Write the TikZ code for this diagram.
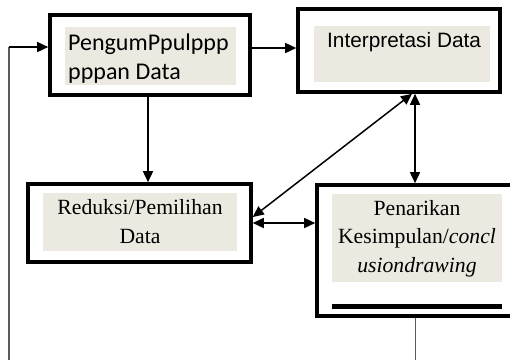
\documentclass[tikz,border=0pt]{standalone}
\usepackage{fontspec}
\setmainfont{Liberation Serif}
\newfontfamily\calibfont{Carlito}
\newfontfamily\arialfont{Liberation Sans}
\usetikzlibrary{arrows.meta}
\definecolor{beige}{RGB}{236,234,224}
\definecolor{framegray}{RGB}{90,90,90}
\begin{document}
\begin{tikzpicture}[x=1pt,y=-1pt,
  box/.style={draw=black,line width=3.6pt,rectangle,inner sep=0pt,outer sep=1.8pt},
  arr/.style={line width=1.5pt,-{Triangle[length=11pt,width=10pt]}},
  darr/.style={line width=1.5pt,{Triangle[length=11pt,width=10pt]}-{Triangle[length=11pt,width=10pt]}},
  sanstxt/.style={font=\calibfont\fontsize{24}{29}\selectfont,inner sep=0pt},
  ariatxt/.style={font=\arialfont\fontsize{20.8}{25}\selectfont,inner sep=0pt},
  sertxt/.style={font=\fontsize{21.7}{29}\selectfont,inner sep=0pt}]
\clip (0,0) rectangle (510,360);
\fill[white] (0,0) rectangle (510,360);
% boxes
\node[box,minimum width=200pt,minimum height=80pt] (b1) at (150,55) {};
\node[box,minimum width=202pt,minimum height=83pt] (b2) at (399,50.5) {};
\node[box,minimum width=223pt,minimum height=78pt] (b3) at (139.5,223) {};
\node[box,minimum width=213pt,minimum height=131pt] (b4) at (423.5,250.5) {};
% inner fills
\fill[beige] (65,27) rectangle (236,85);
\fill[beige] (314,26) rectangle (490,82);
\fill[beige] (43,193) rectangle (237,251);
\fill[beige] (332,194) rectangle (502,282);
\fill[black] (332,304) rectangle (502,309);
% texts
\node[sanstxt,anchor=base west] (t1a) at (68,50) {PengumPpulppp};
\node[sanstxt,anchor=base west] (t1b) at (68,79) {pppan Data};
\node[ariatxt,anchor=base west] (t2) at (327,47) {Interpretasi Data};
\node[sertxt,anchor=base] (t3a) at (140,214) {Reduksi/Pemilihan};
\node[sertxt,anchor=base] (t3b) at (140,243) {Data};
\node[sertxt,anchor=base] (t4a) at (417,215) {Penarikan};
\node[sertxt,anchor=base] (t4b) at (417,243) {Kesimpulan/\textit{concl}};
\node[sertxt,anchor=base] (t4c) at (417,272) {\textit{usiondrawing}};
% connectors
\coordinate (lb) at (9,360);
\coordinate (lt) at (9,47);
\coordinate (bb) at (415.5,360);
\draw[framegray,line width=1.3pt] (lb) -- (lt);
\draw[arr] (lt) -- (lt -| b1.west);
\draw[arr] ([yshift=7pt]b1.east) -- ([yshift=7pt]b1.east -| b2.west);
\draw[arr] ([xshift=-2pt]b1.south) -- ([xshift=-2pt]b1.south |- b3.north);
\draw[darr] ([xshift=16pt]b2.south) -- ([xshift=16pt]b2.south |- b4.north);
\draw[darr] ([xshift=13pt]b2.south) -- ([yshift=6pt]b3.east);
\draw[darr] (b3.east) -- (b3.east -| b4.west);
\draw[framegray,line width=1.3pt] ([xshift=-8pt]b4.south) -- (bb);
\end{tikzpicture}
\end{document}
